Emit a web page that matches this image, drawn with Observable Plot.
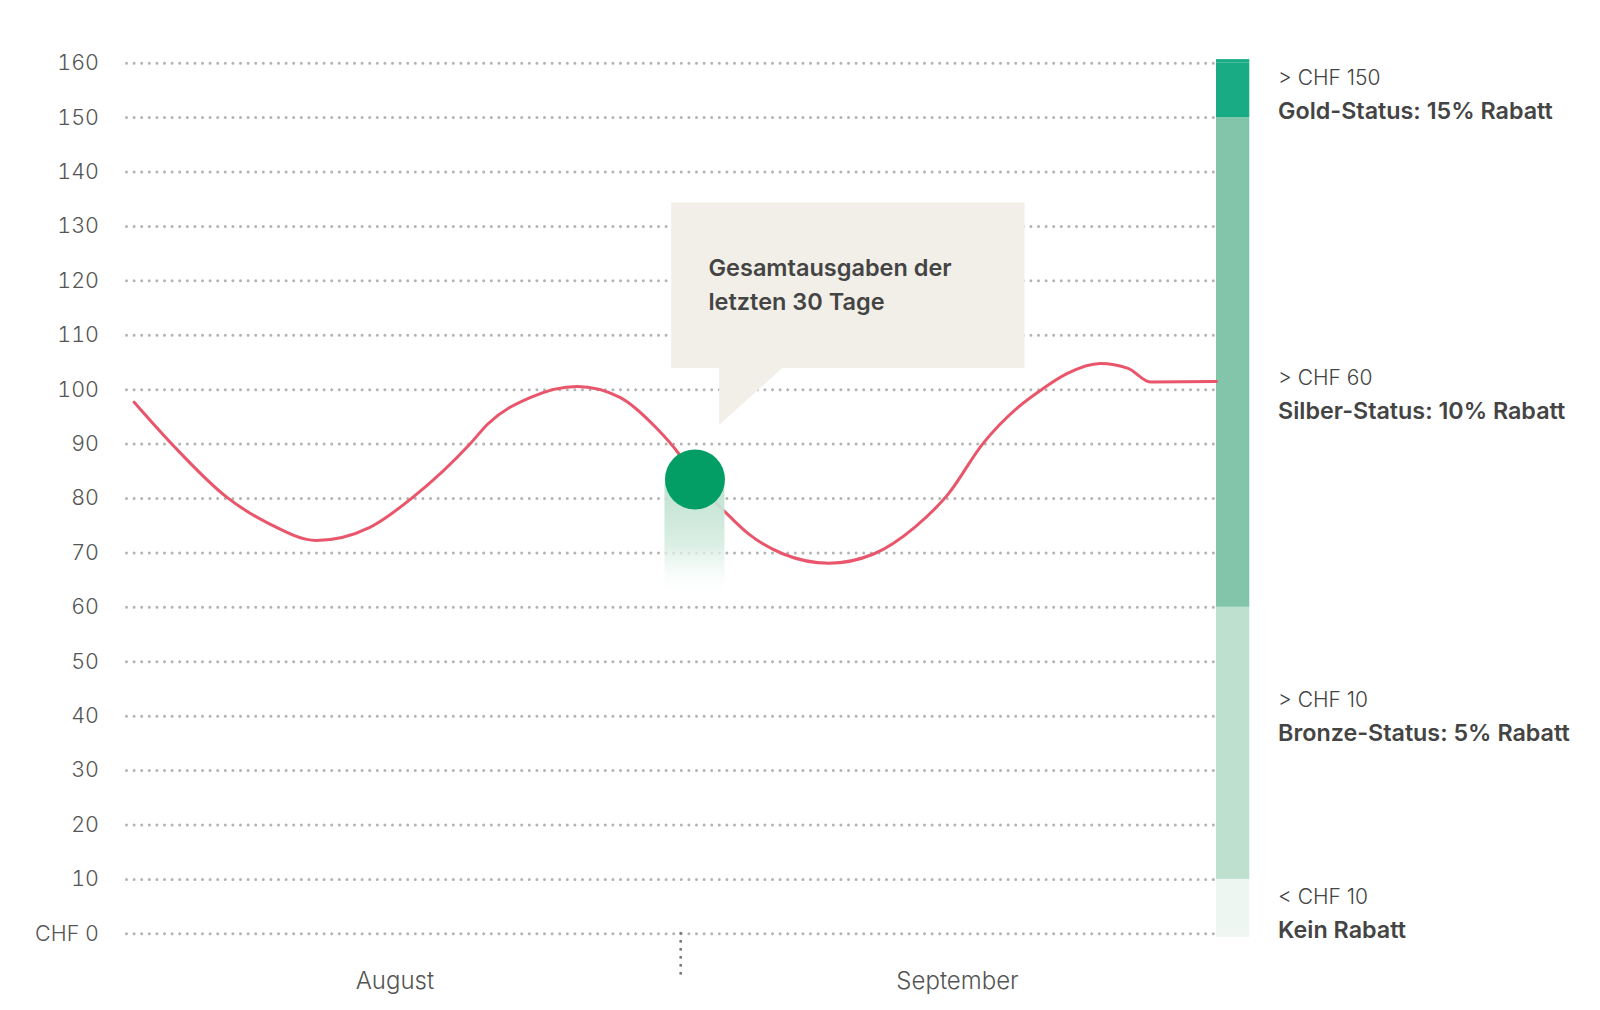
<!DOCTYPE html>
<html><head><meta charset="utf-8">
<script src="https://cdn.jsdelivr.net/npm/d3@7"></script>
<script src="https://cdn.jsdelivr.net/npm/@observablehq/plot@0.6"></script>
<style>html,body{margin:0;padding:0;background:#fff;} #chart svg{display:block;}</style>
</head><body><div id="chart"></div>
<script>
// ---------- data ----------
// day index since 1 August (0 = Aug 1, 31 = Sep 1, 61 = Oct 1)
const days  = [0.4, 2.6, 5.6, 8.0, 10.6, 13.6, 16.0, 19.2, 20.2, 22.6, 25.2, 27.6, 29.6, 30.9, 31.8, 33.5, 34.8, 36.75, 39.3, 41.8, 44.1, 46.0, 47.9, 49.9, 51.2, 52.6, 54.5, 56.05, 57.3, 61];
const spend = [97.7, 89.7, 80.2, 75.3, 72.3, 74.7, 80.2, 90.0, 93.7, 98.6, 100.6, 98.6, 93.1, 88.2, 83.5, 77.5, 73.5, 69.8, 68.1, 69.8, 74.7, 80.9, 90.0, 96.8, 100, 102.9, 104.8, 103.9, 101.4, 101.5];
const markerDay = 31.8;
const markerValue = 83.5;
const calloutText = ["Gesamtausgaben der", "letzten 30 Tage"];

const yTicks = [0, 10, 20, 30, 40, 50, 60, 70, 80, 90, 100, 110, 120, 130, 140, 150, 160];
const monthNames = ["August", "September"];
const monthCenters = [15, 46.5];
const monthStart = 31;       // 1 September
const domainEnd = 61;        // 1 October

const tierLow   = [0, 10, 60, 150];
const tierHigh  = [10, 60, 150, 160];
const tierRange = ["< CHF 10", "> CHF 10", "> CHF 60", "> CHF 150"];
const tierName  = ["Kein Rabatt", "Bronze-Status: 5% Rabatt", "Silber-Status: 10% Rabatt", "Gold-Status: 15% Rabatt"];
const tierLabelAt = [4.1, 40.3, 99.5, 154.5];

// ---------- styles ----------
const tierColors = ["#eef6f2", "#bde0cf", "#83c5aa", "#19ab84"];
const FONT = 'Inter, "Open Sans", sans-serif';
const TEXT = "#444444";

const series = days.map((d, i) => ({day: d, value: spend[i]}));
const tiers = tierLow.map((lo, i) => ({lo, hi: tierHigh[i], range: tierRange[i], name: tierName[i], at: tierLabelAt[i], idx: i}));
const marker = [{day: markerDay, value: markerValue}];
const monthLabel = new Map(monthCenters.map((m, i) => [m, monthNames[i]]));
const lastTier = tiers.length - 1;

function tailMark(index, scales) {
  const cx = scales.x(markerDay), cy = scales.y(markerValue);
  const g = d3.create("svg:g");
  const grad = g.append("defs").append("linearGradient")
    .attr("id", "tailGrad").attr("x1", 0).attr("y1", 0).attr("x2", 0).attr("y2", 1);
  grad.append("stop").attr("offset", 0).attr("stop-color", "#b9dfcc").attr("stop-opacity", 0.95);
  grad.append("stop").attr("offset", 0.55).attr("stop-color", "#d7ede2").attr("stop-opacity", 0.9);
  grad.append("stop").attr("offset", 1).attr("stop-color", "#ffffff").attr("stop-opacity", 0);
  g.append("rect")
    .attr("x", cx - 30).attr("y", cy)
    .attr("width", 60).attr("height", 120)
    .attr("rx", 6)
    .attr("fill", "url(#tailGrad)");
  return g.node();
}

function calloutMark(index, scales) {
  const cx = scales.x(markerDay), cy = scales.y(markerValue);
  const g = d3.create("svg:g");
  const left = cx - 23.3, top = cy - 276.5, right = cx + 330, bottom = cy - 111;
  g.append("path")
    .attr("d", `M${left},${top}H${right}V${bottom}H${cx + 87.7}L${cx + 24.7},${cy - 54}V${bottom}H${left}Z`)
    .attr("fill", "#f2efe8");
  const t = g.append("text")
    .attr("font-family", FONT).attr("font-size", 23.5).attr("font-weight", 600)
    .attr("text-anchor", "start")
    .attr("fill", TEXT);
  calloutText.forEach((s, i) => {
    t.append("tspan").attr("x", cx + 14).attr("y", cy - 202.5 + i * 33.5).text(s);
  });
  return g.node();
}

const chart = Plot.plot({
  width: 1600,
  height: 1010,
  marginLeft: 126.5,
  marginRight: 384,
  marginTop: 62.7,
  marginBottom: 76.7,
  x: {domain: [0, domainEnd]},
  y: {domain: [0, 160]},
  style: {fontFamily: FONT, background: "#ffffff", color: TEXT, overflow: "visible"},
  marks: [
    Plot.ruleY(yTicks, {x1: 0, x2: domainEnd, stroke: "#b3b3b3", strokeWidth: 3, strokeDasharray: "0 7.6", strokeLinecap: "round"}),
    Plot.ruleX([monthStart], {y1: 0, y2: 0, insetBottom: -41, stroke: "#7a7a7a", strokeWidth: 3, strokeDasharray: "0 8", strokeLinecap: "round"}),
    Plot.rect(tiers, {x1: domainEnd, x2: domainEnd, y1: "lo", y2: "hi", insetRight: -33.3, fill: d => tierColors[d.idx]}),
    Plot.rect(tiers.filter(d => d.idx === 0), {x1: domainEnd, x2: domainEnd, y1: "lo", y2: "lo", insetRight: -33.3, insetBottom: -3.6, fill: tierColors[0]}),
    Plot.rect(tiers.filter(d => d.idx === lastTier), {x1: domainEnd, x2: domainEnd, y1: "hi", y2: "hi", insetRight: -33.3, insetTop: -3.6, fill: tierColors[lastTier]}),
    Plot.axisY({ticks: yTicks, tickFormat: d => d === 0 ? "CHF 0" : String(d), tickSize: 0, tickPadding: 28, fontSize: 21.5, fontWeight: 300, color: "#555555", label: null}),
    Plot.axisX({ticks: monthCenters, tickFormat: d => monthLabel.get(d), tickSize: 0, tickPadding: 38, fontSize: 24, fontWeight: 300, color: "#555555", label: null}),
    Plot.line(series, {x: "day", y: "value", stroke: "#e9566b", strokeWidth: 3, curve: "monotone-x"}),
    tailMark,
    Plot.dot(marker, {x: "day", y: "value", r: 30, fill: "#039e65"}),
    calloutMark,
    Plot.text(tiers, {x: domainEnd, y: "at", text: "range", dx: 61.6, dy: -14.6, textAnchor: "start", fontSize: 21, fontWeight: 300, fill: TEXT}),
    Plot.text(tiers, {x: domainEnd, y: "at", text: "name", dx: 61.6, dy: 18.7, textAnchor: "start", fontSize: 23.3, fontWeight: 600, fill: TEXT})
  ]
});
document.getElementById("chart").append(chart);
</script>
</body></html>
